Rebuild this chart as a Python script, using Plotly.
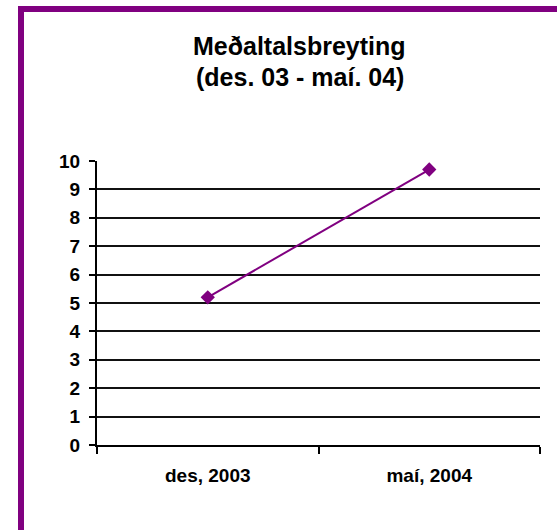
import plotly.graph_objects as go

categories = ["des, 2003", "maí, 2004"]
values = [5.2, 9.7]
y_ticks = list(range(0, 11))
title_line1 = "Meðaltalsbreyting"
title_line2 = "(des. 03 - maí. 04)"

PURPLE = "#800080"
FONT = "Liberation Sans, Arial, sans-serif"

W, H = 557, 530
L, R, T, B = 97, 17, 161, 85
pw = W - L - R
ph = H - T - B

def px_x(px):
    return (px - L) / pw

def px_y(py):
    return (H - B - py) / ph

fig = go.Figure()
fig.add_trace(go.Scatter(
    x=categories, y=values, mode="lines+markers",
    line=dict(color=PURPLE, width=2),
    marker=dict(symbol="diamond", size=11, color=PURPLE),
    showlegend=False, hoverinfo="skip", cliponaxis=False,
))

fig.update_layout(
    width=W, height=H,
    margin=dict(l=L, r=R, t=T, b=B, autoexpand=False),
    paper_bgcolor="white", plot_bgcolor="white",
    font=dict(family=FONT, color="black"),
    xaxis=dict(
        type="category", range=[-0.5, 1.5], tickson="boundaries",
        showgrid=False, showline=True, linecolor="black", linewidth=2,
        ticks="outside", ticklen=7, tickwidth=2, tickcolor="black",
        tickfont=dict(size=19, weight="bold", family=FONT),
        ticklabelstandoff=12, zeroline=False, fixedrange=True,
    ),
    yaxis=dict(
        range=[0, 10], tickvals=y_ticks, ticktext=[str(v) for v in y_ticks],
        showgrid=True, gridcolor="#111111", gridwidth=2,
        showline=True, linecolor="black", linewidth=2,
        ticks="outside", ticklen=6, tickwidth=2, tickcolor="black",
        tickfont=dict(size=19, weight="bold", family=FONT),
        ticklabelstandoff=5,
        zeroline=False, fixedrange=True,
    ),
    shapes=[
        dict(type="rect", xref="paper", yref="paper",
             x0=px_x(21), x1=px_x(620), y0=px_y(600), y1=px_y(9),
             line=dict(color=PURPLE, width=6), fillcolor="rgba(0,0,0,0)",
             layer="above"),
    ],
    annotations=[
        dict(text=title_line1, xref="paper", yref="paper",
             x=px_x(299), y=px_y(46), xanchor="center", yanchor="middle",
             showarrow=False, font=dict(size=25, weight="bold", family=FONT)),
        dict(text=title_line2, xref="paper", yref="paper",
             x=px_x(300), y=px_y(77), xanchor="center", yanchor="middle",
             showarrow=False, font=dict(size=25, weight="bold", family=FONT)),
    ],
)

fig.write_html(
    "out.html",
    config={"displayModeBar": False, "staticPlot": True},
    post_script="document.body.style.margin='0';document.body.style.overflow='hidden';",
)
